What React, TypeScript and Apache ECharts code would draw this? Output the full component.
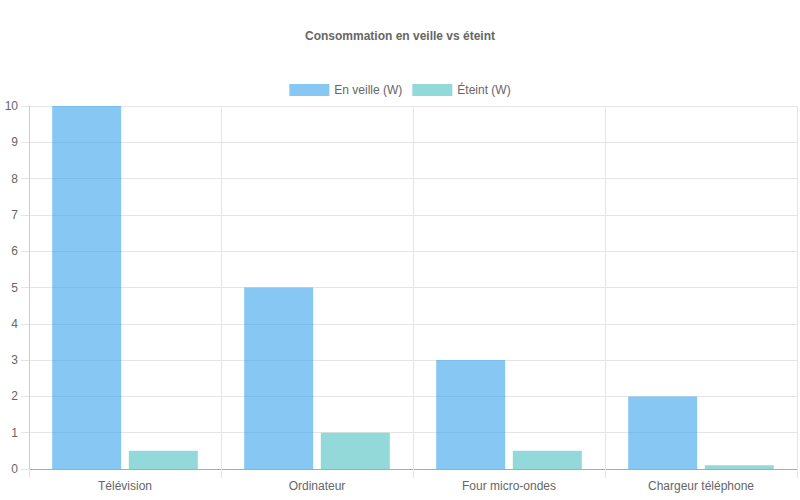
import React, { useEffect, useRef } from "react";
import * as echarts from "echarts";

const categories = ["Télévision", "Ordinateur", "Four micro-ondes", "Chargeur téléphone"];
const standbyValues = [10, 5, 3, 2];
const offValues = [0.5, 1, 0.5, 0.1];
const seriesNames = ["En veille (W)", "Éteint (W)"];
const titleText = "Consommation en veille vs éteint";

const FONT = "'Liberation Sans', Arial, Helvetica, sans-serif";

export default function App() {
  const ref = useRef<HTMLDivElement>(null);
  useEffect(() => {
    document.body.style.margin = "0";
    const chart = echarts.init(ref.current!, null, { renderer: "svg" });
    chart.setOption({
      animation: false,
      textStyle: { fontFamily: FONT },
      title: {
        text: titleText,
        left: "center",
        top: 25,
        textStyle: { fontSize: 12, fontWeight: "bold", color: "#666", fontFamily: FONT },
      },
      legend: {
        top: 79,
        left: "center",
        icon: "rect",
        itemWidth: 40,
        itemHeight: 12,
        itemGap: 10,
        textStyle: { fontSize: 12, color: "#666", fontFamily: FONT },
        data: seriesNames,
      },
      grid: { left: 29, right: 3, top: 106, bottom: 31, containLabel: false },
      xAxis: {
        type: "category",
        data: categories,
        axisLine: { show: true, lineStyle: { color: "#aaa" } },
        axisTick: { show: true, length: 9, lineStyle: { color: "#e5e5e5" } },
        axisLabel: { color: "#666", fontSize: 12, margin: 11, fontFamily: FONT },
        splitLine: { show: true, lineStyle: { color: "#e5e5e5" } },
      },
      yAxis: {
        type: "value",
        min: 0,
        max: 10,
        interval: 1,
        axisLine: { show: true, lineStyle: { color: "#ccc" } },
        axisTick: { show: true, length: 8, lineStyle: { color: "#e5e5e5" } },
        axisLabel: { color: "#666", fontSize: 12, margin: 11, fontFamily: FONT },
        splitLine: { show: true, lineStyle: { color: "#e5e5e5" } },
      },
      series: [
        {
          name: seriesNames[0],
          type: "bar",
          data: standbyValues,
          barWidth: 69,
          barGap: "11%",
          itemStyle: { color: "rgba(54,162,235,0.6)" },
        },
        {
          name: seriesNames[1],
          type: "bar",
          data: offValues,
          barWidth: 69,
          barGap: "11%",
          itemStyle: { color: "rgba(75,192,192,0.6)" },
        },
      ],
    });
    return () => chart.dispose();
  }, []);
  return <div ref={ref} style={{ width: 800, height: 500 }} />;
}
